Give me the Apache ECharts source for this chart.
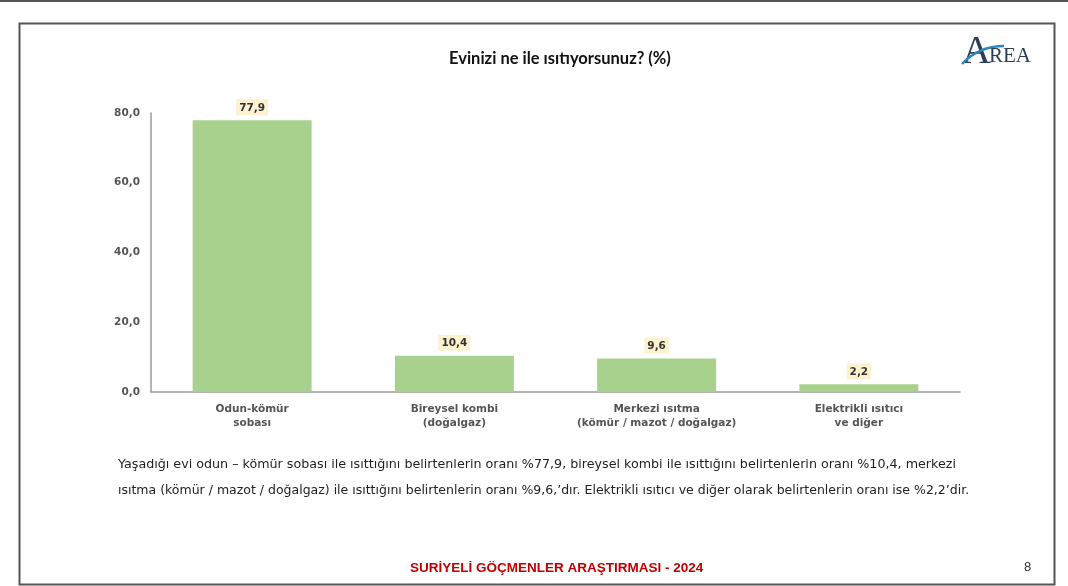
<!DOCTYPE html>
<html>
<head>
<meta charset="utf-8">
<script src="https://cdn.jsdelivr.net/npm/echarts@6/dist/echarts.min.js"></script>
<style>
html,body{margin:0;padding:0;background:#fff;}
#main{width:1068px;height:586px;}
</style>
</head>
<body>
<div id="main"></div>
<script>
const categories = ['Odun-kömür\nsobası', 'Bireysel kombi\n(doğalgaz)', 'Merkezi ısıtma\n(kömür / mazot / doğalgaz)', 'Elektrikli ısıtıcı\nve diğer'];
const values = [77.9, 10.4, 9.6, 2.2];
const titleText = 'Evinizi ne ile ısıtıyorsunuz? (%)';
const noteLine1 = 'Yaşadığı evi odun – kömür sobası ile ısıttığını belirtenlerin oranı %77,9, bireysel kombi ile ısıttığını belirtenlerin oranı %10,4, merkezi';
const noteLine2 = 'ısıtma (kömür / mazot / doğalgaz) ile ısıttığını belirtenlerin oranı %9,6,’dır. Elektrikli ısıtıcı ve diğer olarak belirtenlerin oranı ise %2,2’dir.';
const footerText = 'SURİYELİ GÖÇMENLER ARAŞTIRMASI - 2024';
const pageNo = '8';

const chart = echarts.init(document.getElementById('main'));
const fmt = v => v.toFixed(1).replace('.', ',');
chart.setOption({
  backgroundColor: '#fff',
  animation: false,
  title: {
    text: titleText,
    left: 444,
    top: 45,
    textStyle: {fontFamily: 'Lato', fontSize: 16.5, fontWeight: 'bold', color: '#111'}
  },
  grid: {left: 151, right: 108, top: 113, bottom: 194, containLabel: false},
  xAxis: {
    type: 'category',
    data: categories,
    axisLine: {lineStyle: {color: '#9a9a9a', width: 1.5}},
    axisTick: {show: false},
    axisLabel: {interval: 0, color: '#555', fontFamily: 'DejaVu Sans', fontWeight: 'bold', fontSize: 10.5, lineHeight: 14, margin: 10}
  },
  yAxis: {
    type: 'value',
    min: 0, max: 80, interval: 20,
    splitLine: {show: false},
    axisLine: {show: true, lineStyle: {color: '#9a9a9a', width: 1.5}},
    axisTick: {show: false},
    axisLabel: {color: '#555', fontFamily: 'DejaVu Sans', fontWeight: 'bold', fontSize: 10.5, margin: 11, formatter: v => fmt(v)}
  },
  series: [{
    type: 'bar',
    data: values,
    barWidth: 119,
    itemStyle: {color: '#a9d18e'},
    label: {
      show: true, position: 'top', distance: 5,
      formatter: p => fmt(p.value),
      color: '#333', fontFamily: 'DejaVu Sans', fontWeight: 'bold', fontSize: 10.5,
      backgroundColor: '#fdf2cf', padding: [3, 3, 2, 3]
    }
  }],
  graphic: [
    {type: 'rect', shape: {x: 0, y: 0, width: 1068, height: 2}, style: {fill: '#555'}},
    {type: 'rect', shape: {x: 19.5, y: 23.5, width: 1035, height: 561}, style: {fill: 'none', stroke: '#555', lineWidth: 2}},
    {type: 'text', left: 118, top: 458, style: {text: noteLine1, fontFamily: 'DejaVu Sans', fontSize: 12.7, fill: '#222'}},
    {type: 'text', left: 118, top: 484, style: {text: noteLine2, fontFamily: 'DejaVu Sans', fontSize: 12.5, fill: '#222'}},
    {type: 'text', left: 410, top: 561, style: {text: footerText, fontFamily: 'Liberation Sans', fontWeight: 'bold', fontSize: 13.5, fill: '#c00000'}},
    {type: 'text', left: 1024, top: 561, style: {text: pageNo, fontFamily: 'Liberation Sans', fontSize: 13, fill: '#333'}},
    {type: 'text', left: 962, top: 32, style: {text: 'A', fontFamily: 'Liberation Serif', fontSize: 40, fill: '#2d3e55'}},
    {type: 'text', left: 989, top: 46, style: {text: 'REA', fontFamily: 'Liberation Serif', fontSize: 21, fill: '#2d3e55'}},
    {type: 'bezierCurve', shape: {x1: 962, y1: 64, x2: 1004, y2: 46, cpx1: 975, cpy1: 50, cpx2: 990, cpy2: 46}, style: {stroke: '#2e86c1', lineWidth: 2.5, fill: 'none'}}
  ]
});
</script>
</body>
</html>
